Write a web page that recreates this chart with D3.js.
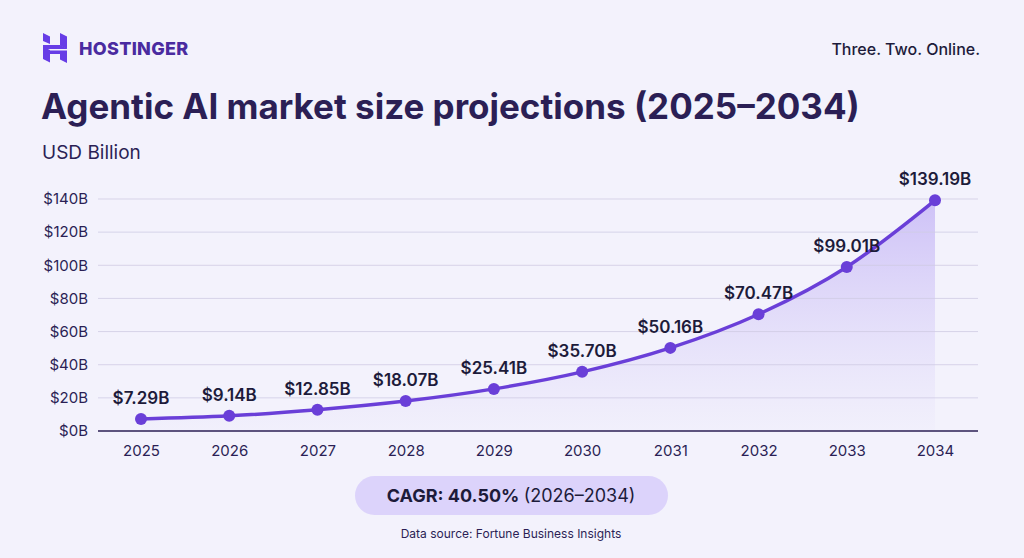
<!DOCTYPE html>
<html>
<head>
<meta charset="utf-8">
<script src="https://cdn.jsdelivr.net/npm/d3@7"></script>
<style>
  body { margin: 0; background: #f3f2fc; }
  svg { display: block; font-family: Inter, "Noto Sans", sans-serif; }
</style>
</head>
<body>
<div id="chart"></div>
<script>
var years = [2025, 2026, 2027, 2028, 2029, 2030, 2031, 2032, 2033, 2034];
var values = [7.29, 9.14, 12.85, 18.07, 25.41, 35.70, 50.16, 70.47, 99.01, 139.19];
var yTicks = [0, 20, 40, 60, 80, 100, 120, 140];

var W = 1024, H = 558;
var svg = d3.select("#chart").append("svg")
  .attr("width", W).attr("height", H);

svg.append("rect").attr("width", W).attr("height", H).attr("fill", "#f3f2fc");

// logo
var logo = svg.append("g").attr("transform", "translate(43,33)").attr("fill", "#673de6");
logo.append("path").attr("d", "M0,0 L7,3.5 L7,11 L0,8 Z");
logo.append("path").attr("d", "M0,12 L17,12 L24,15.5 L24,16 L0,16 Z");
logo.append("path").attr("d", "M17,0 L24,3.5 L24,16 L17,12.5 Z");
logo.append("path").attr("d", "M0,14 L7,17.5 L24,17.5 L24,21 L0,21 Z");
logo.append("path").attr("d", "M0,14 L0,26 L7,29.5 L7,17 Z");
logo.append("path").attr("d", "M17,21 L24,21 L24,30 L17,26.5 Z");
svg.append("text").attr("x", 79).attr("y", 55)
  .attr("font-size", 18).attr("font-weight", 800).attr("letter-spacing", 0.3)
  .attr("fill", "#4a2ba0").text("HOSTINGER");

svg.append("text").attr("x", 980).attr("y", 55).attr("text-anchor", "end")
  .attr("font-size", 16).attr("font-weight", 500).attr("fill", "#1d1b3a")
  .text("Three. Two. Online.");

svg.append("text").attr("x", 41).attr("y", 119)
  .attr("font-size", 35).attr("font-weight", 700).attr("fill", "#2b1f55")
  .text("Agentic AI market size projections (2025–2034)");
svg.append("text").attr("x", 42).attr("y", 159)
  .attr("font-size", 19).attr("fill", "#2b1f55").text("USD Billion");

var x = d3.scalePoint().domain(years).range([141, 935]);
var y = d3.scaleLinear().domain([0, 140]).range([431, 199]);

var data = years.map(function(d, i) { return { year: d, value: values[i] }; });

var defs = svg.append("defs");
var grad = defs.append("linearGradient").attr("id", "fillGrad")
  .attr("gradientUnits", "userSpaceOnUse")
  .attr("x1", 0).attr("y1", y(140)).attr("x2", 0).attr("y2", y(0));
grad.append("stop").attr("offset", "0%").attr("stop-color", "#9a7ef0").attr("stop-opacity", 0.42);
grad.append("stop").attr("offset", "100%").attr("stop-color", "#b9a8f2").attr("stop-opacity", 0.03);

var curve = d3.curveMonotoneX;
svg.append("path").datum(data)
  .attr("fill", "url(#fillGrad)")
  .attr("d", d3.area().curve(curve)
    .x(function(d) { return x(d.year); })
    .y0(y(0))
    .y1(function(d) { return y(d.value); }));

// grid
svg.append("g").selectAll("line").data(yTicks.filter(function(d) { return d > 0; }))
  .enter().append("line")
  .attr("x1", 98).attr("x2", 978)
  .attr("y1", function(d) { return y(d); }).attr("y2", function(d) { return y(d); })
  .attr("stroke", "#cfcce3").attr("stroke-opacity", 0.8).attr("stroke-width", 1);

var yAxis = svg.append("g").attr("transform", "translate(98,0)")
  .call(d3.axisLeft(y).tickValues(yTicks).tickSize(0).tickPadding(10)
    .tickFormat(function(d) { return "$" + d + "B"; }));
yAxis.select(".domain").remove();
yAxis.selectAll("text").attr("font-size", 15).attr("fill", "#2b1f55")
  .attr("font-family", "Inter, sans-serif");

var xAxis = svg.append("g").attr("transform", "translate(0,431)")
  .call(d3.axisBottom(x).tickSize(0).tickPadding(14).tickFormat(d3.format("d")));
xAxis.select(".domain").remove();
xAxis.selectAll("text").attr("font-size", 15).attr("fill", "#2b1f55")
  .attr("font-family", "Inter, sans-serif");
svg.append("line").attr("x1", 98).attr("x2", 978).attr("y1", 431).attr("y2", 431)
  .attr("stroke", "#2b1f55").attr("stroke-width", 1.3);

svg.append("path").datum(data)
  .attr("fill", "none").attr("stroke", "#6a3fd8").attr("stroke-width", 3.5)
  .attr("d", d3.line().curve(curve)
    .x(function(d) { return x(d.year); })
    .y(function(d) { return y(d.value); }));

svg.append("g").selectAll("circle").data(data).enter().append("circle")
  .attr("cx", function(d) { return x(d.year); })
  .attr("cy", function(d) { return y(d.value); })
  .attr("r", 6).attr("fill", "#6a3fd8");

svg.append("g").selectAll("text").data(data).enter().append("text")
  .attr("x", function(d) { return x(d.year); })
  .attr("y", function(d) { return y(d.value) - 15; })
  .attr("text-anchor", "middle")
  .attr("font-size", 17).attr("font-weight", 600).attr("fill", "#1d1b3a")
  .text(function(d) { return "$" + d.value.toFixed(2) + "B"; });

// CAGR pill
svg.append("rect").attr("x", 355).attr("y", 476).attr("width", 313).attr("height", 39)
  .attr("rx", 19.5).attr("fill", "#dcd3fb");
var cagr = svg.append("text").attr("x", 511).attr("y", 502).attr("text-anchor", "middle")
  .attr("font-size", 18).attr("fill", "#1d1b3a");
cagr.append("tspan").attr("font-weight", 700).text("CAGR: 40.50% ");
cagr.append("tspan").text("(2026–2034)");

svg.append("text").attr("x", 511).attr("y", 538).attr("text-anchor", "middle")
  .attr("font-size", 12).attr("fill", "#2b1f55")
  .text("Data source: Fortune Business Insights");
</script>
</body>
</html>
